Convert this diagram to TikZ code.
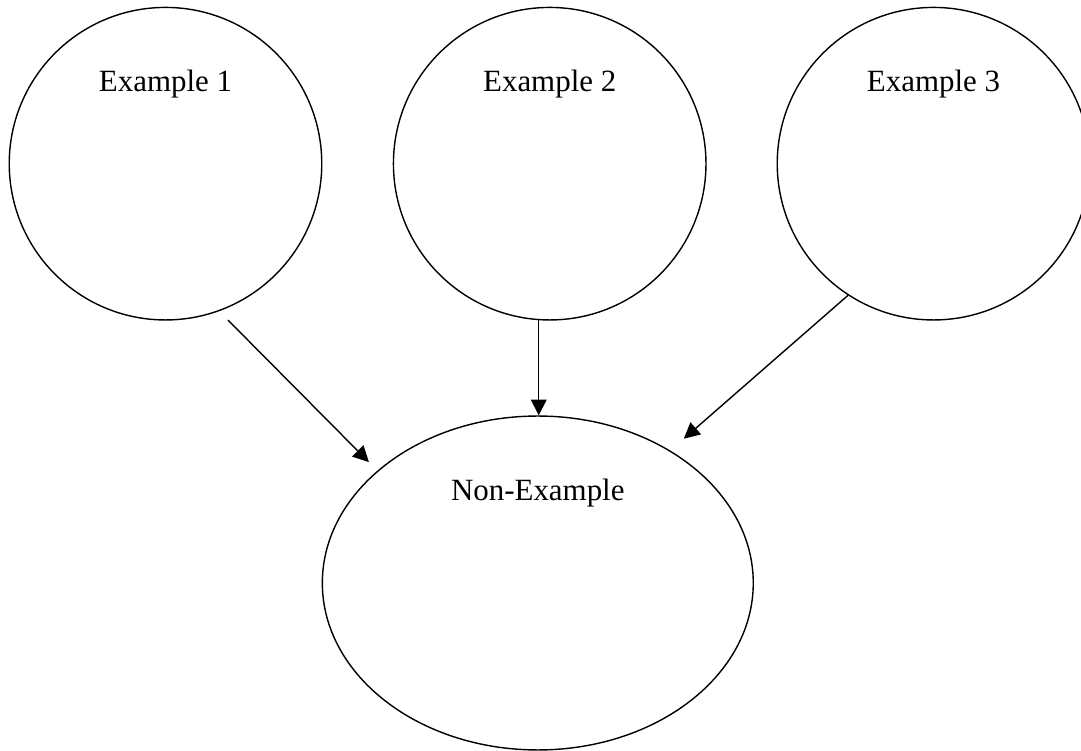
\documentclass[tikz,border=0pt]{standalone}
\usepackage{fontspec}
\setmainfont{Liberation Serif}
\usetikzlibrary{positioning,shapes.geometric,arrows.meta}
\begin{document}
\begin{tikzpicture}[x=0.02cm,y=0.02cm,line width=0.8pt,
  bubble/.style={draw,circle,inner sep=0pt,minimum size=6.252cm},
  oval/.style={draw,ellipse,inner sep=0pt,minimum width=8.62cm,minimum height=6.68cm},
  lbl/.style={font=\fontsize{17.6pt}{21pt}\selectfont,inner sep=0pt,anchor=base},
  arr/.style={-{Triangle[length=9pt,width=9pt]}}]
\useasboundingbox (0,0) rectangle (1081,750);
\node[bubble] (ex1) at (165.5,586.3) {};
\node[bubble] (ex2) at (549.7,586.3) {};
\node[bubble] (ex3) at (933.5,586.3) {};
\node[oval] (nonex) at (537.8,167) {};
\node[lbl,below=1.69cm of ex1.north,anchor=base] (t1) {Example 1};
\node[lbl,below=1.69cm of ex2.north,anchor=base] (t2) {Example 2};
\node[lbl,below=1.69cm of ex3.north,anchor=base] (t3) {Example 3};
\node[lbl,below=1.71cm of nonex.north,anchor=base] (t4) {Non-Example};
% arrows into the non-example
\draw[arr,shorten <=0.25cm,shorten >=0.24cm] (ex1.-70.8) -- (nonex.145.2);
\draw[arr] (ex2.-94.4) -- (ex2.-94.4 |- nonex.north);
\draw[arr,shorten >=0.36cm] (ex3.237.4) -- (nonex.45.2);
\end{tikzpicture}
\end{document}
